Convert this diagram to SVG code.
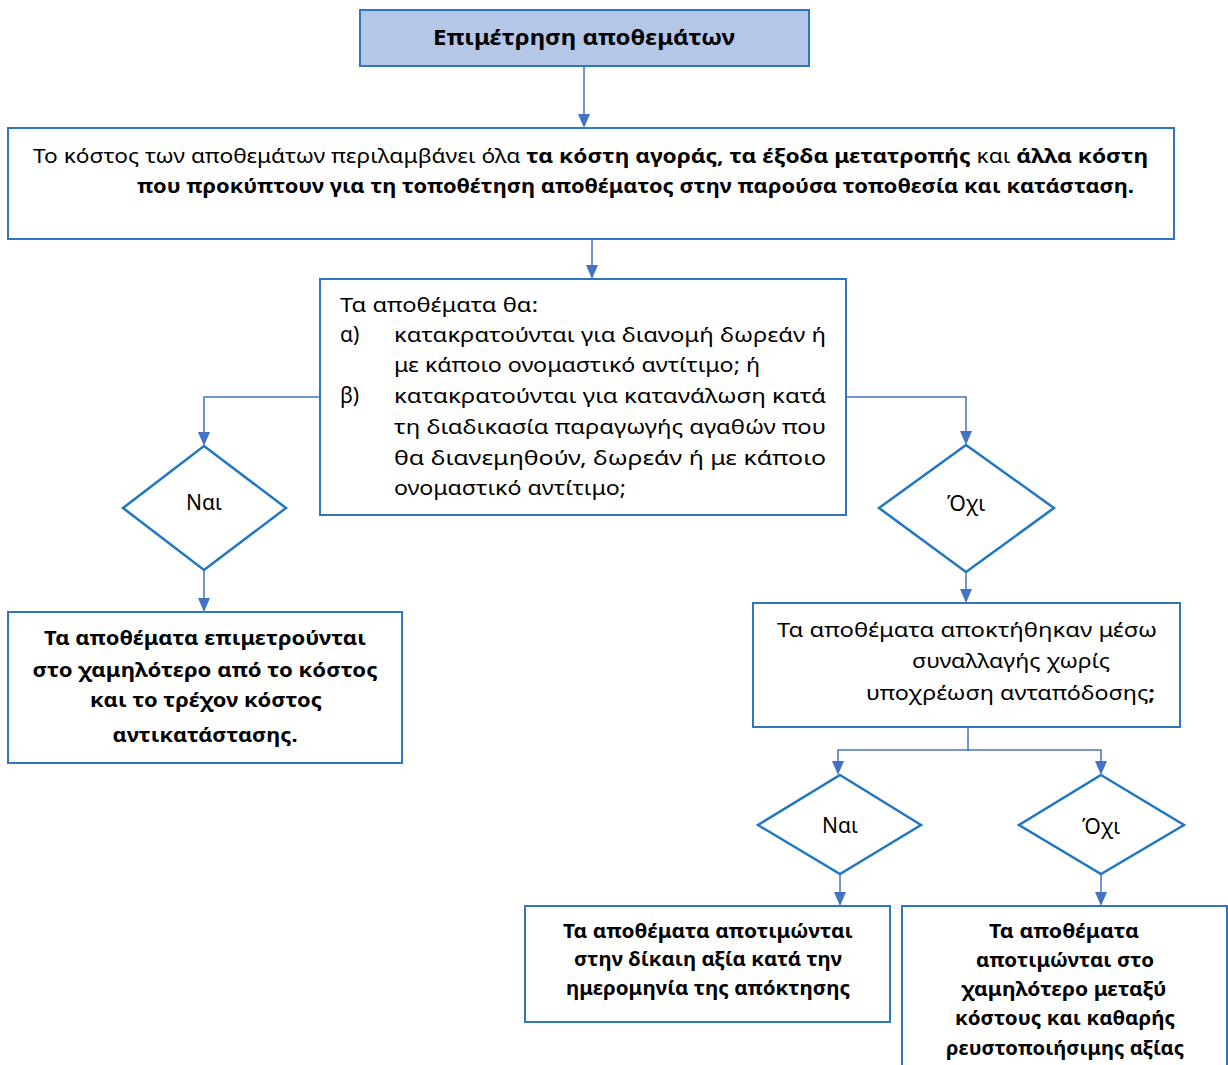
<svg xmlns="http://www.w3.org/2000/svg" width="1228" height="1065" viewBox="0 0 1228 1065">
<style>
.box{fill:#ffffff;stroke:#2e75c4;stroke-width:2}
.title{fill:#b4c7e7;stroke:#2e75c4;stroke-width:2}
.dia{fill:#ffffff;stroke:#1f77c4;stroke-width:2.5}
.con{fill:none;stroke:#4472c4;stroke-width:1.5}
text{font-family:"Noto Sans","Open Sans","DejaVu Sans",sans-serif;fill:#000}
.t20{font-size:20px}
.t21{font-size:21px}
.b{font-weight:bold}
.c{text-anchor:middle}
</style>
<defs>
<marker id="arr" viewBox="0 0 14 12" refX="12" refY="6" markerWidth="14" markerHeight="12" orient="auto" markerUnits="userSpaceOnUse">
<path d="M0,0 L14,6 L0,12 z" fill="#4472c4"/>
</marker>
</defs>
<g id="connectors">
<path class="con" d="M584,66 V126" marker-end="url(#arr)"/>
<path class="con" d="M592,240 V277" marker-end="url(#arr)"/>
<path class="con" d="M320,397 H204 V444" marker-end="url(#arr)"/>
<path class="con" d="M846,397 H966 V443" marker-end="url(#arr)"/>
<path class="con" d="M204,570 V610" marker-end="url(#arr)"/>
<path class="con" d="M966,572 V601" marker-end="url(#arr)"/>
<path class="con" d="M968,727 V750 H838 V773" marker-end="url(#arr)"/>
<path class="con" d="M968,750 H1101 V773" marker-end="url(#arr)"/>
<path class="con" d="M840,874 V904" marker-end="url(#arr)"/>
<path class="con" d="M1101,874 V904" marker-end="url(#arr)"/>
</g>
<g id="n-title">
<rect class="title" x="360" y="10" width="449" height="56"/>
<text class="b c" x="584" y="45" font-size="22" textLength="302" lengthAdjust="spacingAndGlyphs">Επιμέτρηση αποθεμάτων</text>
</g>
<g id="n-cost">
<rect class="box" x="8" y="128" width="1166" height="111"/>
<text class="t20" x="33" y="163" textLength="1115" lengthAdjust="spacingAndGlyphs">Το κόστος των αποθεμάτων περιλαμβάνει όλα <tspan class="b">τα κόστη αγοράς, τα έξοδα μετατροπής</tspan> και <tspan class="b">άλλα κόστη</tspan></text>
<text class="t20 b" x="137" y="193" textLength="997" lengthAdjust="spacingAndGlyphs">που προκύπτουν για τη τοποθέτηση αποθέματος στην παρούσα τοποθεσία και κατάσταση.</text>
</g>
<g id="n-question">
<rect class="box" x="320" y="279" width="526" height="236"/>
<text class="t20" x="340" y="312" textLength="198" lengthAdjust="spacingAndGlyphs">Τα αποθέματα θα:</text>
<text class="t21" x="340" y="342">α)</text>
<text class="t20" x="394" y="342" textLength="432" lengthAdjust="spacingAndGlyphs">κατακρατούνται για διανομή δωρεάν ή</text>
<text class="t20" x="394" y="372" textLength="366" lengthAdjust="spacingAndGlyphs">με κάποιο ονομαστικό αντίτιμο; ή</text>
<text class="t21" x="340" y="403">β)</text>
<text class="t20" x="394" y="403" textLength="432" lengthAdjust="spacingAndGlyphs">κατακρατούνται για κατανάλωση κατά</text>
<text class="t20" x="394" y="434" textLength="432" lengthAdjust="spacingAndGlyphs">τη διαδικασία παραγωγής αγαθών που</text>
<text class="t20" x="394" y="465" textLength="432" lengthAdjust="spacingAndGlyphs">θα διανεμηθούν, δωρεάν ή με κάποιο</text>
<text class="t20" x="394" y="495" textLength="232" lengthAdjust="spacingAndGlyphs">ονομαστικό αντίτιμο;</text>
</g>
<g id="n-yes1">
<polygon class="dia" points="204,446 286,508 204,570 123,508"/>
<text class="t21 c" x="204" y="510">Ναι</text>
</g>
<g id="n-no1">
<polygon class="dia" points="966,445 1054,508 966,572 879,508"/>
<text class="t21 c" x="966" y="511">Όχι</text>
</g>
<g id="n-lower">
<rect class="box" x="8" y="612" width="394" height="151"/>
<text class="t20 b c" x="205" y="645" textLength="322" lengthAdjust="spacingAndGlyphs">Τα αποθέματα επιμετρούνται</text>
<text class="t20 b c" x="205" y="677" textLength="345" lengthAdjust="spacingAndGlyphs">στο χαμηλότερο από το κόστος</text>
<text class="t20 b c" x="206" y="707" textLength="232" lengthAdjust="spacingAndGlyphs">και το τρέχον κόστος</text>
<text class="t20 b c" x="205" y="742" textLength="185" lengthAdjust="spacingAndGlyphs">αντικατάστασης.</text>
</g>
<g id="n-acquired">
<rect class="box" x="753" y="603" width="427" height="124"/>
<text class="t20" x="777" y="637" textLength="380" lengthAdjust="spacingAndGlyphs">Τα αποθέματα αποκτήθηκαν μέσω</text>
<text class="t20" x="912" y="668" textLength="198" lengthAdjust="spacingAndGlyphs">συναλλαγής χωρίς</text>
<text class="t20" x="866" y="700" textLength="289" lengthAdjust="spacingAndGlyphs">υποχρέωση ανταπόδοσης<tspan class="b">;</tspan></text>
</g>
<g id="n-yes2">
<polygon class="dia" points="840,775 921,825 840,874 758,825"/>
<text class="t21 c" x="840" y="833">Ναι</text>
</g>
<g id="n-no2">
<polygon class="dia" points="1101,775 1184,825 1101,874 1019,825"/>
<text class="t21 c" x="1101" y="834">Όχι</text>
</g>
<g id="n-fair">
<rect class="box" x="525" y="906" width="365" height="116"/>
<text class="b c" font-size="19" x="708" y="938" textLength="290" lengthAdjust="spacingAndGlyphs">Τα αποθέματα αποτιμώνται</text>
<text class="b c" font-size="19" x="708" y="966" textLength="268" lengthAdjust="spacingAndGlyphs">στην δίκαιη αξία κατά την</text>
<text class="b c" font-size="19" x="708" y="995" textLength="284" lengthAdjust="spacingAndGlyphs">ημερομηνία της απόκτησης</text>
</g>
<g id="n-nrv">
<rect class="box" x="902" y="906" width="325" height="170"/>
<text class="b c" font-size="19" x="1064" y="938" textLength="150" lengthAdjust="spacingAndGlyphs">Τα αποθέματα</text>
<text class="b c" font-size="19" x="1065" y="967" textLength="178" lengthAdjust="spacingAndGlyphs">αποτιμώνται στο</text>
<text class="b c" font-size="19" x="1064" y="996" textLength="205" lengthAdjust="spacingAndGlyphs">χαμηλότερο μεταξύ</text>
<text class="b c" font-size="19" x="1065" y="1025" textLength="220" lengthAdjust="spacingAndGlyphs">κόστους και καθαρής</text>
<text class="b c" font-size="19" x="1065" y="1055" textLength="238" lengthAdjust="spacingAndGlyphs">ρευστοποιήσιμης αξίας</text>
</g>
</svg>
